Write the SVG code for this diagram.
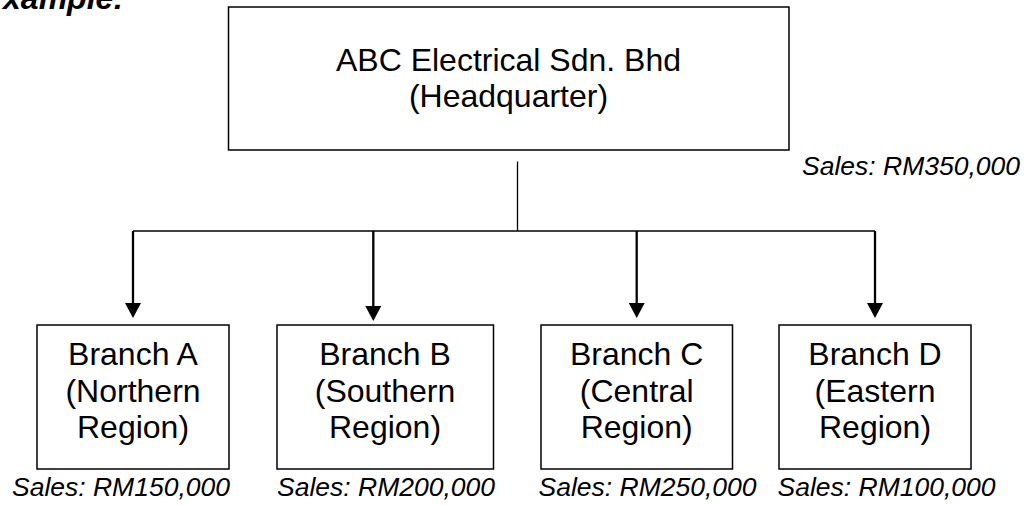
<svg xmlns="http://www.w3.org/2000/svg" width="1026" height="505" viewBox="0 0 1026 505">
  <style>
    .box { fill: #ffffff; stroke: #000000; stroke-width: 1.5; }
    .name { font-family: "Liberation Sans", Arial, sans-serif; font-size: 32px; fill: #000000; text-anchor: middle; }
    .sales { font-family: "Liberation Sans", Arial, sans-serif; font-size: 26.5px; font-style: italic; fill: #000000; }
    .title { font-family: "Liberation Sans", Arial, sans-serif; font-size: 32px; font-style: italic; font-weight: bold; fill: #000000; }
    .link { fill: none; stroke: #000000; }
    .stem { fill: none; stroke: #000000; stroke-width: 2.3; }
  </style>
  <defs>
    <marker id="arrowhead" markerUnits="userSpaceOnUse" viewBox="0 0 15 16" refX="7" refY="8" markerWidth="15" markerHeight="16" orient="auto">
      <path d="M0,0 L15,8 L0,16 z" fill="#000000"/>
    </marker>
  </defs>

  <rect width="1026" height="505" fill="#ffffff"/>

  <text class="title" x="124" y="9" text-anchor="end">xample:</text>

  <!-- Connectors -->
  <g id="connectors">
    <line class="link" x1="517.5" y1="161.5" x2="517.5" y2="231" stroke-width="1.3"/>
    <line class="link" x1="133" y1="231" x2="875" y2="231" stroke-width="1.7"/>
    <line class="stem" x1="133" y1="231" x2="133" y2="310" marker-end="url(#arrowhead)"/>
    <line class="stem" x1="373.3" y1="231" x2="373.3" y2="313" marker-end="url(#arrowhead)"/>
    <line class="stem" x1="636.7" y1="231" x2="636.7" y2="310" marker-end="url(#arrowhead)"/>
    <line class="stem" x1="875" y1="231" x2="875" y2="310" marker-end="url(#arrowhead)"/>
  </g>

  <!-- Headquarter -->
  <g id="hq">
    <rect class="box" x="228.5" y="7" width="560.5" height="143"/>
    <text class="name" x="508.5" y="71">ABC Electrical Sdn. Bhd</text>
    <text class="name" x="508.5" y="107">(Headquarter)</text>
    <text class="sales" x="802" y="174.5">Sales: RM350,000</text>
  </g>

  <!-- Branches -->
  <g id="branch-a">
    <rect class="box" x="37" y="325" width="192" height="144"/>
    <text class="name" x="133" y="365">Branch A</text>
    <text class="name" x="133" y="401.5">(Northern</text>
    <text class="name" x="133" y="438">Region)</text>
    <text class="sales" x="230" y="496" text-anchor="end">Sales: RM150,000</text>
  </g>

  <g id="branch-b">
    <rect class="box" x="277" y="325" width="216.5" height="144"/>
    <text class="name" x="385" y="365">Branch B</text>
    <text class="name" x="385" y="401.5">(Southern</text>
    <text class="name" x="385" y="438">Region)</text>
    <text class="sales" x="277" y="496">Sales: RM200,000</text>
  </g>

  <g id="branch-c">
    <rect class="box" x="541" y="325" width="191.5" height="144"/>
    <text class="name" x="636.7" y="365">Branch C</text>
    <text class="name" x="636.7" y="401.5">(Central</text>
    <text class="name" x="636.7" y="438">Region)</text>
    <text class="sales" x="538.5" y="496">Sales: RM250,000</text>
  </g>

  <g id="branch-d">
    <rect class="box" x="779" y="325" width="192" height="144"/>
    <text class="name" x="875" y="365">Branch D</text>
    <text class="name" x="875" y="401.5">(Eastern</text>
    <text class="name" x="875" y="438">Region)</text>
    <text class="sales" x="777.5" y="496">Sales: RM100,000</text>
  </g>
</svg>
